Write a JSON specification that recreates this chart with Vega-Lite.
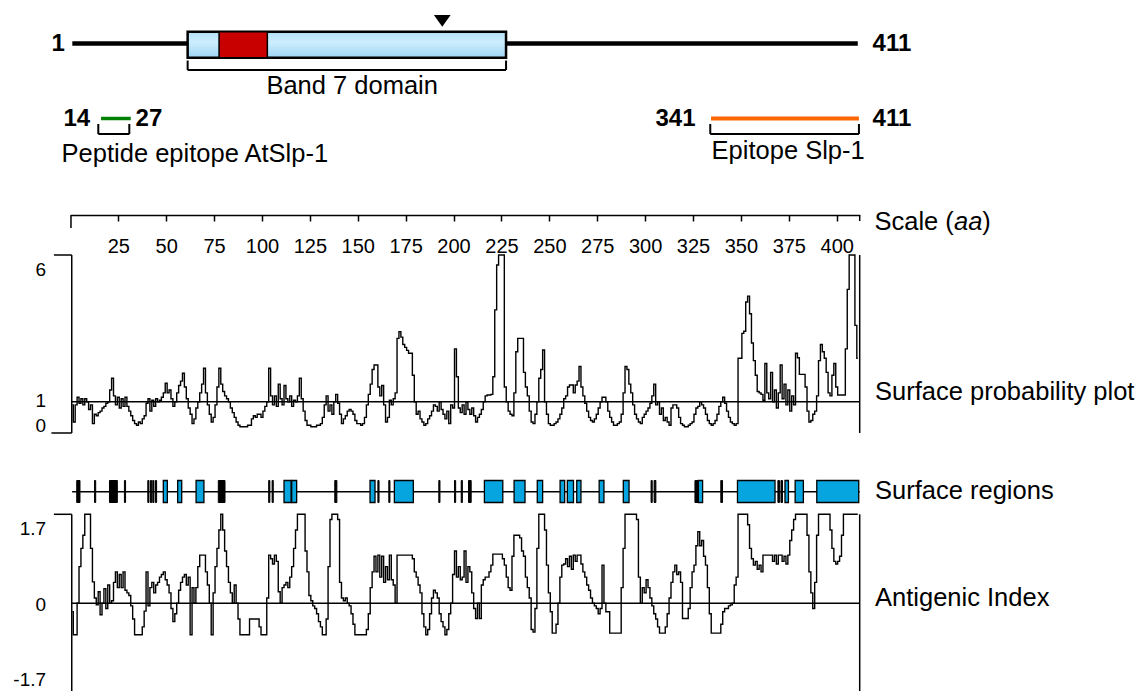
{
 "$schema": "https://vega.github.io/schema/vega-lite/v6.json",
 "width": 1138, "height": 691,
 "autosize": {"type": "none"},
 "padding": 0,
 "background": "#ffffff",
 "config": {"view": {"stroke": null}, "text": {"font": "Liberation Sans", "color": "black"}},
 "datasets": {
  "sp": [{"aa":1,"v":0.9},{"aa":2,"v":0.35},{"aa":3,"v":0.9},{"aa":4,"v":1.15},{"aa":5,"v":0.95},{"aa":6,"v":1.1},{"aa":7,"v":0.9},{"aa":8,"v":1.1},{"aa":9,"v":1.0},{"aa":10,"v":0.75},{"aa":11,"v":0.9},{"aa":12,"v":0.3},{"aa":13,"v":0.6},{"aa":14,"v":0.55},{"aa":15,"v":0.65},{"aa":16,"v":0.7},{"aa":17,"v":0.8},{"aa":18,"v":0.85},{"aa":19,"v":0.95},{"aa":20,"v":1.0},{"aa":21,"v":1.4},{"aa":22,"v":1.8},{"aa":23,"v":1.2},{"aa":24,"v":0.9},{"aa":25,"v":1.15},{"aa":26,"v":0.8},{"aa":27,"v":1.1},{"aa":28,"v":0.85},{"aa":29,"v":1.15},{"aa":30,"v":0.85},{"aa":31,"v":0.7},{"aa":32,"v":0.55},{"aa":33,"v":0.4},{"aa":34,"v":0.3},{"aa":35,"v":0.25},{"aa":36,"v":0.35},{"aa":37,"v":0.3},{"aa":38,"v":0.45},{"aa":39,"v":0.55},{"aa":40,"v":0.95},{"aa":41,"v":1.1},{"aa":42,"v":0.7},{"aa":43,"v":1.05},{"aa":44,"v":0.85},{"aa":45,"v":1.1},{"aa":46,"v":1.0},{"aa":47,"v":1.05},{"aa":48,"v":1.15},{"aa":49,"v":1.3},{"aa":50,"v":1.63},{"aa":51,"v":1.3},{"aa":52,"v":1.4},{"aa":53,"v":1.1},{"aa":54,"v":0.85},{"aa":55,"v":1.0},{"aa":56,"v":1.3},{"aa":57,"v":1.55},{"aa":58,"v":1.7},{"aa":59,"v":1.97},{"aa":60,"v":1.5},{"aa":61,"v":1.1},{"aa":62,"v":0.8},{"aa":63,"v":0.6},{"aa":64,"v":0.3},{"aa":65,"v":0.45},{"aa":66,"v":0.8},{"aa":67,"v":1.0},{"aa":68,"v":1.3},{"aa":69,"v":1.6},{"aa":70,"v":2.14},{"aa":71,"v":1.3},{"aa":72,"v":0.9},{"aa":73,"v":0.6},{"aa":74,"v":0.35},{"aa":75,"v":0.5},{"aa":76,"v":0.9},{"aa":77,"v":1.5},{"aa":78,"v":2.14},{"aa":79,"v":1.6},{"aa":80,"v":1.35},{"aa":81,"v":1.2},{"aa":82,"v":1.1},{"aa":83,"v":1.0},{"aa":84,"v":0.8},{"aa":85,"v":0.65},{"aa":86,"v":0.5},{"aa":87,"v":0.35},{"aa":88,"v":0.25},{"aa":89,"v":0.2},{"aa":90,"v":0.2},{"aa":91,"v":0.2},{"aa":92,"v":0.2},{"aa":93,"v":0.25},{"aa":94,"v":0.25},{"aa":95,"v":0.45},{"aa":96,"v":0.55},{"aa":97,"v":0.5},{"aa":98,"v":0.6},{"aa":99,"v":0.6},{"aa":100,"v":0.5},{"aa":101,"v":0.7},{"aa":102,"v":0.85},{"aa":103,"v":1.0},{"aa":104,"v":2.14},{"aa":105,"v":1.2},{"aa":106,"v":0.9},{"aa":107,"v":1.2},{"aa":108,"v":0.85},{"aa":109,"v":1.6},{"aa":110,"v":1.1},{"aa":111,"v":0.9},{"aa":112,"v":1.55},{"aa":113,"v":1.1},{"aa":114,"v":1.0},{"aa":115,"v":1.2},{"aa":116,"v":0.85},{"aa":117,"v":1.05},{"aa":118,"v":1.0},{"aa":119,"v":1.2},{"aa":120,"v":1.8},{"aa":121,"v":1.1},{"aa":122,"v":0.7},{"aa":123,"v":0.4},{"aa":124,"v":0.25},{"aa":125,"v":0.25},{"aa":126,"v":0.2},{"aa":127,"v":0.2},{"aa":128,"v":0.2},{"aa":129,"v":0.25},{"aa":130,"v":0.25},{"aa":131,"v":0.3},{"aa":132,"v":0.5},{"aa":133,"v":0.9},{"aa":134,"v":1.2},{"aa":135,"v":0.7},{"aa":136,"v":0.9},{"aa":137,"v":0.6},{"aa":138,"v":1.0},{"aa":139,"v":1.25},{"aa":140,"v":0.95},{"aa":141,"v":0.6},{"aa":142,"v":0.3},{"aa":143,"v":0.45},{"aa":144,"v":0.55},{"aa":145,"v":0.7},{"aa":146,"v":0.75},{"aa":147,"v":0.7},{"aa":148,"v":0.6},{"aa":149,"v":0.4},{"aa":150,"v":0.3},{"aa":151,"v":0.3},{"aa":152,"v":0.25},{"aa":153,"v":0.3},{"aa":154,"v":0.5},{"aa":155,"v":0.9},{"aa":156,"v":1.25},{"aa":157,"v":1.6},{"aa":158,"v":2.1},{"aa":159,"v":2.25},{"aa":160,"v":2.25},{"aa":161,"v":1.5},{"aa":162,"v":1.2},{"aa":163,"v":1.55},{"aa":164,"v":0.9},{"aa":165,"v":0.35},{"aa":166,"v":0.5},{"aa":167,"v":1.05},{"aa":168,"v":0.9},{"aa":169,"v":1.1},{"aa":170,"v":1.3},{"aa":171,"v":3.16},{"aa":172,"v":3.39},{"aa":173,"v":3.2},{"aa":174,"v":2.95},{"aa":175,"v":2.85},{"aa":176,"v":2.75},{"aa":177,"v":2.65},{"aa":178,"v":2.65},{"aa":179,"v":1.9},{"aa":180,"v":1.0},{"aa":181,"v":0.6},{"aa":182,"v":0.7},{"aa":183,"v":0.45},{"aa":184,"v":0.35},{"aa":185,"v":0.25},{"aa":186,"v":0.3},{"aa":187,"v":0.45},{"aa":188,"v":0.55},{"aa":189,"v":0.7},{"aa":190,"v":0.9},{"aa":191,"v":0.85},{"aa":192,"v":0.7},{"aa":193,"v":1.0},{"aa":194,"v":0.75},{"aa":195,"v":0.6},{"aa":196,"v":0.45},{"aa":197,"v":0.7},{"aa":198,"v":0.3},{"aa":199,"v":0.9},{"aa":200,"v":0.8},{"aa":201,"v":2.8},{"aa":202,"v":1.85},{"aa":203,"v":0.8},{"aa":204,"v":0.65},{"aa":205,"v":0.9},{"aa":206,"v":0.6},{"aa":207,"v":1.0},{"aa":208,"v":0.75},{"aa":209,"v":0.6},{"aa":210,"v":0.8},{"aa":211,"v":0.55},{"aa":212,"v":0.35},{"aa":213,"v":0.5},{"aa":214,"v":0.6},{"aa":215,"v":0.75},{"aa":216,"v":1.0},{"aa":217,"v":1.2},{"aa":218,"v":1.23},{"aa":219,"v":1.23},{"aa":220,"v":1.25},{"aa":221,"v":1.85},{"aa":222,"v":4.13},{"aa":223,"v":5.66},{"aa":224,"v":6.0},{"aa":225,"v":6.0},{"aa":226,"v":6.0},{"aa":227,"v":1.5},{"aa":228,"v":1.0},{"aa":229,"v":0.7},{"aa":230,"v":0.6},{"aa":231,"v":0.55},{"aa":232,"v":1.3},{"aa":233,"v":2.7},{"aa":234,"v":3.16},{"aa":235,"v":3.16},{"aa":236,"v":3.16},{"aa":237,"v":2.0},{"aa":238,"v":1.5},{"aa":239,"v":1.2},{"aa":240,"v":0.7},{"aa":241,"v":0.35},{"aa":242,"v":0.3},{"aa":243,"v":0.6},{"aa":244,"v":1.0},{"aa":245,"v":1.8},{"aa":246,"v":2.1},{"aa":247,"v":2.76},{"aa":248,"v":1.0},{"aa":249,"v":0.6},{"aa":250,"v":0.3},{"aa":251,"v":0.25},{"aa":252,"v":0.25},{"aa":253,"v":0.3},{"aa":254,"v":0.35},{"aa":255,"v":0.45},{"aa":256,"v":0.6},{"aa":257,"v":0.8},{"aa":258,"v":1.1},{"aa":259,"v":1.2},{"aa":260,"v":1.5},{"aa":261,"v":1.57},{"aa":262,"v":1.57},{"aa":263,"v":1.3},{"aa":264,"v":1.57},{"aa":265,"v":1.7},{"aa":266,"v":2.2},{"aa":267,"v":1.5},{"aa":268,"v":1.2},{"aa":269,"v":0.95},{"aa":270,"v":0.7},{"aa":271,"v":0.5},{"aa":272,"v":0.4},{"aa":273,"v":0.35},{"aa":274,"v":0.45},{"aa":275,"v":0.6},{"aa":276,"v":0.8},{"aa":277,"v":1.0},{"aa":278,"v":1.15},{"aa":279,"v":1.15},{"aa":280,"v":1.0},{"aa":281,"v":0.7},{"aa":282,"v":0.5},{"aa":283,"v":0.35},{"aa":284,"v":0.25},{"aa":285,"v":0.25},{"aa":286,"v":0.3},{"aa":287,"v":0.35},{"aa":288,"v":0.6},{"aa":289,"v":1.3},{"aa":290,"v":2.2},{"aa":291,"v":2.1},{"aa":292,"v":1.6},{"aa":293,"v":1.3},{"aa":294,"v":0.9},{"aa":295,"v":0.6},{"aa":296,"v":0.45},{"aa":297,"v":0.35},{"aa":298,"v":0.3},{"aa":299,"v":0.5},{"aa":300,"v":0.6},{"aa":301,"v":0.7},{"aa":302,"v":0.8},{"aa":303,"v":0.95},{"aa":304,"v":1.2},{"aa":305,"v":1.6},{"aa":306,"v":0.9},{"aa":307,"v":1.0},{"aa":308,"v":0.6},{"aa":309,"v":0.8},{"aa":310,"v":0.4},{"aa":311,"v":0.5},{"aa":312,"v":0.35},{"aa":313,"v":0.25},{"aa":314,"v":0.8},{"aa":315,"v":0.9},{"aa":316,"v":0.9},{"aa":317,"v":0.8},{"aa":318,"v":0.5},{"aa":319,"v":0.3},{"aa":320,"v":0.25},{"aa":321,"v":0.2},{"aa":322,"v":0.2},{"aa":323,"v":0.25},{"aa":324,"v":0.3},{"aa":325,"v":0.35},{"aa":326,"v":0.6},{"aa":327,"v":0.8},{"aa":328,"v":0.85},{"aa":329,"v":1.0},{"aa":330,"v":0.9},{"aa":331,"v":0.8},{"aa":332,"v":0.6},{"aa":333,"v":0.4},{"aa":334,"v":0.3},{"aa":335,"v":0.25},{"aa":336,"v":0.3},{"aa":337,"v":0.4},{"aa":338,"v":0.6},{"aa":339,"v":0.85},{"aa":340,"v":1.0},{"aa":341,"v":1.15},{"aa":342,"v":0.95},{"aa":343,"v":0.7},{"aa":344,"v":0.5},{"aa":345,"v":0.35},{"aa":346,"v":0.3},{"aa":347,"v":0.25},{"aa":348,"v":0.3},{"aa":349,"v":2.48},{"aa":350,"v":2.48},{"aa":351,"v":3.33},{"aa":352,"v":3.4},{"aa":353,"v":4.4},{"aa":354,"v":4.6},{"aa":355,"v":4.0},{"aa":356,"v":3.0},{"aa":357,"v":2.4},{"aa":358,"v":1.9},{"aa":359,"v":1.35},{"aa":360,"v":1.3},{"aa":361,"v":1.25},{"aa":362,"v":1.05},{"aa":363,"v":2.3},{"aa":364,"v":1.3},{"aa":365,"v":1.1},{"aa":366,"v":2.0},{"aa":367,"v":1.0},{"aa":368,"v":1.4},{"aa":369,"v":0.8},{"aa":370,"v":1.3},{"aa":371,"v":2.25},{"aa":372,"v":1.1},{"aa":373,"v":1.6},{"aa":374,"v":0.9},{"aa":375,"v":1.4},{"aa":376,"v":0.7},{"aa":377,"v":1.2},{"aa":378,"v":0.9},{"aa":379,"v":2.65},{"aa":380,"v":2.5},{"aa":381,"v":1.93},{"aa":382,"v":1.93},{"aa":383,"v":1.93},{"aa":384,"v":1.5},{"aa":385,"v":0.7},{"aa":386,"v":0.35},{"aa":387,"v":0.4},{"aa":388,"v":0.6},{"aa":389,"v":0.7},{"aa":390,"v":1.2},{"aa":391,"v":2.4},{"aa":392,"v":2.95},{"aa":393,"v":2.7},{"aa":394,"v":2.48},{"aa":395,"v":2.0},{"aa":396,"v":1.3},{"aa":397,"v":1.2},{"aa":398,"v":1.9},{"aa":399,"v":2.3},{"aa":400,"v":1.5},{"aa":401,"v":1.23},{"aa":402,"v":1.23},{"aa":403,"v":1.23},{"aa":404,"v":1.23},{"aa":405,"v":2.8},{"aa":406,"v":4.83},{"aa":407,"v":6.0},{"aa":408,"v":6.0},{"aa":409,"v":6.0},{"aa":410,"v":3.6},{"aa":411,"v":2.48}],
  "ai": [{"aa":1,"v":-0.16},{"aa":2,"v":-0.6},{"aa":3,"v":-0.6},{"aa":4,"v":0.0},{"aa":5,"v":0.7},{"aa":6,"v":1.05},{"aa":7,"v":1.3},{"aa":8,"v":1.7},{"aa":9,"v":1.7},{"aa":10,"v":1.7},{"aa":11,"v":1.05},{"aa":12,"v":0.41},{"aa":13,"v":0.1},{"aa":14,"v":-0.03},{"aa":15,"v":0.22},{"aa":16,"v":-0.22},{"aa":17,"v":0.0},{"aa":18,"v":0.28},{"aa":19,"v":-0.1},{"aa":20,"v":0.35},{"aa":21,"v":0.0},{"aa":22,"v":0.05},{"aa":23,"v":0.4},{"aa":24,"v":0.6},{"aa":25,"v":0.3},{"aa":26,"v":0.55},{"aa":27,"v":0.3},{"aa":28,"v":0.6},{"aa":29,"v":0.25},{"aa":30,"v":0.2},{"aa":31,"v":0.15},{"aa":32,"v":-0.05},{"aa":33,"v":-0.3},{"aa":34,"v":-0.6},{"aa":35,"v":-0.6},{"aa":36,"v":-0.6},{"aa":37,"v":-0.6},{"aa":38,"v":-0.45},{"aa":39,"v":-0.15},{"aa":40,"v":0.6},{"aa":41,"v":-0.05},{"aa":42,"v":0.3},{"aa":43,"v":0.4},{"aa":44,"v":0.2},{"aa":45,"v":0.35},{"aa":46,"v":0.4},{"aa":47,"v":0.5},{"aa":48,"v":0.55},{"aa":49,"v":0.6},{"aa":50,"v":0.45},{"aa":51,"v":0.35},{"aa":52,"v":0.2},{"aa":53,"v":-0.1},{"aa":54,"v":-0.35},{"aa":55,"v":-0.2},{"aa":56,"v":0.0},{"aa":57,"v":0.25},{"aa":58,"v":0.4},{"aa":59,"v":0.5},{"aa":60,"v":0.55},{"aa":61,"v":0.35},{"aa":62,"v":0.5},{"aa":63,"v":-0.6},{"aa":64,"v":0.3},{"aa":65,"v":0.0},{"aa":66,"v":0.3},{"aa":67,"v":0.7},{"aa":68,"v":0.92},{"aa":69,"v":0.92},{"aa":70,"v":0.92},{"aa":71,"v":0.6},{"aa":72,"v":0.35},{"aa":73,"v":0.0},{"aa":74,"v":-0.6},{"aa":75,"v":0.2},{"aa":76,"v":0.7},{"aa":77,"v":1.05},{"aa":78,"v":1.4},{"aa":79,"v":1.7},{"aa":80,"v":1.4},{"aa":81,"v":1.0},{"aa":82,"v":0.7},{"aa":83,"v":0.4},{"aa":84,"v":0.2},{"aa":85,"v":0.0},{"aa":86,"v":0.35},{"aa":87,"v":0.0},{"aa":88,"v":-0.3},{"aa":89,"v":-0.6},{"aa":90,"v":-0.6},{"aa":91,"v":-0.6},{"aa":92,"v":-0.6},{"aa":93,"v":-0.6},{"aa":94,"v":-0.3},{"aa":95,"v":-0.3},{"aa":96,"v":-0.3},{"aa":97,"v":-0.3},{"aa":98,"v":-0.3},{"aa":99,"v":-0.45},{"aa":100,"v":-0.6},{"aa":101,"v":-0.6},{"aa":102,"v":-0.6},{"aa":103,"v":0.1},{"aa":104,"v":0.92},{"aa":105,"v":0.85},{"aa":106,"v":0.75},{"aa":107,"v":0.92},{"aa":108,"v":0.8},{"aa":109,"v":0.22},{"aa":110,"v":0.0},{"aa":111,"v":0.3},{"aa":112,"v":0.35},{"aa":113,"v":0.4},{"aa":114,"v":0.3},{"aa":115,"v":0.5},{"aa":116,"v":0.7},{"aa":117,"v":1.05},{"aa":118,"v":1.4},{"aa":119,"v":1.7},{"aa":120,"v":1.7},{"aa":121,"v":1.7},{"aa":122,"v":1.7},{"aa":123,"v":1.0},{"aa":124,"v":0.6},{"aa":125,"v":0.15},{"aa":126,"v":0.05},{"aa":127,"v":-0.05},{"aa":128,"v":-0.1},{"aa":129,"v":-0.2},{"aa":130,"v":-0.35},{"aa":131,"v":-0.45},{"aa":132,"v":-0.6},{"aa":133,"v":-0.6},{"aa":134,"v":-0.3},{"aa":135,"v":0.7},{"aa":136,"v":1.6},{"aa":137,"v":1.7},{"aa":138,"v":1.7},{"aa":139,"v":1.7},{"aa":140,"v":1.6},{"aa":141,"v":0.4},{"aa":142,"v":0.1},{"aa":143,"v":0.05},{"aa":144,"v":0.1},{"aa":145,"v":0.0},{"aa":146,"v":-0.05},{"aa":147,"v":-0.2},{"aa":148,"v":-0.4},{"aa":149,"v":-0.6},{"aa":150,"v":-0.6},{"aa":151,"v":-0.6},{"aa":152,"v":-0.6},{"aa":153,"v":-0.6},{"aa":154,"v":-0.6},{"aa":155,"v":-0.5},{"aa":156,"v":-0.2},{"aa":157,"v":0.3},{"aa":158,"v":0.6},{"aa":159,"v":0.9},{"aa":160,"v":0.6},{"aa":161,"v":0.92},{"aa":162,"v":0.5},{"aa":163,"v":0.9},{"aa":164,"v":0.4},{"aa":165,"v":0.7},{"aa":166,"v":0.45},{"aa":167,"v":0.92},{"aa":168,"v":0.45},{"aa":169,"v":0.35},{"aa":170,"v":0.0},{"aa":171,"v":0.92},{"aa":172,"v":0.92},{"aa":173,"v":0.92},{"aa":174,"v":0.92},{"aa":175,"v":0.92},{"aa":176,"v":0.92},{"aa":177,"v":0.92},{"aa":178,"v":0.92},{"aa":179,"v":0.85},{"aa":180,"v":0.6},{"aa":181,"v":0.5},{"aa":182,"v":0.35},{"aa":183,"v":0.2},{"aa":184,"v":-0.2},{"aa":185,"v":-0.45},{"aa":186,"v":-0.6},{"aa":187,"v":-0.5},{"aa":188,"v":-0.2},{"aa":189,"v":0.1},{"aa":190,"v":0.25},{"aa":191,"v":0.2},{"aa":192,"v":0.1},{"aa":193,"v":-0.2},{"aa":194,"v":-0.35},{"aa":195,"v":-0.45},{"aa":196,"v":-0.6},{"aa":197,"v":-0.5},{"aa":198,"v":-0.2},{"aa":199,"v":0.0},{"aa":200,"v":0.55},{"aa":201,"v":1.0},{"aa":202,"v":0.5},{"aa":203,"v":0.7},{"aa":204,"v":0.45},{"aa":205,"v":0.5},{"aa":206,"v":1.0},{"aa":207,"v":0.4},{"aa":208,"v":0.7},{"aa":209,"v":0.6},{"aa":210,"v":0.2},{"aa":211,"v":-0.1},{"aa":212,"v":-0.29},{"aa":213,"v":0.0},{"aa":214,"v":-0.29},{"aa":215,"v":0.35},{"aa":216,"v":0.45},{"aa":217,"v":0.5},{"aa":218,"v":0.5},{"aa":219,"v":0.6},{"aa":220,"v":0.73},{"aa":221,"v":0.94},{"aa":222,"v":0.94},{"aa":223,"v":0.94},{"aa":224,"v":0.94},{"aa":225,"v":0.94},{"aa":226,"v":0.85},{"aa":227,"v":0.73},{"aa":228,"v":0.5},{"aa":229,"v":0.3},{"aa":230,"v":0.25},{"aa":231,"v":0.9},{"aa":232,"v":1.3},{"aa":233,"v":1.3},{"aa":234,"v":1.3},{"aa":235,"v":1.25},{"aa":236,"v":1.0},{"aa":237,"v":0.9},{"aa":238,"v":0.5},{"aa":239,"v":0.3},{"aa":240,"v":0.1},{"aa":241,"v":-0.5},{"aa":242,"v":-0.55},{"aa":243,"v":-0.1},{"aa":244,"v":1.05},{"aa":245,"v":1.7},{"aa":246,"v":1.7},{"aa":247,"v":1.7},{"aa":248,"v":1.4},{"aa":249,"v":0.73},{"aa":250,"v":0.2},{"aa":251,"v":-0.16},{"aa":252,"v":-0.57},{"aa":253,"v":-0.57},{"aa":254,"v":-0.4},{"aa":255,"v":0.0},{"aa":256,"v":0.5},{"aa":257,"v":0.73},{"aa":258,"v":0.75},{"aa":259,"v":0.85},{"aa":260,"v":0.7},{"aa":261,"v":0.9},{"aa":262,"v":0.65},{"aa":263,"v":0.92},{"aa":264,"v":0.8},{"aa":265,"v":0.92},{"aa":266,"v":0.92},{"aa":267,"v":0.75},{"aa":268,"v":0.6},{"aa":269,"v":0.5},{"aa":270,"v":0.35},{"aa":271,"v":0.25},{"aa":272,"v":0.1},{"aa":273,"v":0.0},{"aa":274,"v":-0.05},{"aa":275,"v":-0.1},{"aa":276,"v":-0.2},{"aa":277,"v":-0.1},{"aa":278,"v":0.73},{"aa":279,"v":0.0},{"aa":280,"v":-0.16},{"aa":281,"v":-0.16},{"aa":282,"v":-0.57},{"aa":283,"v":-0.57},{"aa":284,"v":-0.57},{"aa":285,"v":-0.57},{"aa":286,"v":-0.57},{"aa":287,"v":-0.57},{"aa":288,"v":0.3},{"aa":289,"v":1.05},{"aa":290,"v":1.7},{"aa":291,"v":1.7},{"aa":292,"v":1.7},{"aa":293,"v":1.7},{"aa":294,"v":1.7},{"aa":295,"v":1.7},{"aa":296,"v":1.6},{"aa":297,"v":0.5},{"aa":298,"v":0.0},{"aa":299,"v":0.3},{"aa":300,"v":0.2},{"aa":301,"v":0.45},{"aa":302,"v":0.3},{"aa":303,"v":0.1},{"aa":304,"v":-0.05},{"aa":305,"v":-0.2},{"aa":306,"v":-0.3},{"aa":307,"v":-0.45},{"aa":308,"v":-0.57},{"aa":309,"v":-0.57},{"aa":310,"v":-0.57},{"aa":311,"v":-0.45},{"aa":312,"v":-0.2},{"aa":313,"v":0.1},{"aa":314,"v":0.4},{"aa":315,"v":0.6},{"aa":316,"v":0.73},{"aa":317,"v":0.55},{"aa":318,"v":0.6},{"aa":319,"v":0.4},{"aa":320,"v":-0.29},{"aa":321,"v":-0.29},{"aa":322,"v":-0.29},{"aa":323,"v":-0.1},{"aa":324,"v":0.3},{"aa":325,"v":0.6},{"aa":326,"v":0.73},{"aa":327,"v":1.1},{"aa":328,"v":1.37},{"aa":329,"v":1.1},{"aa":330,"v":1.2},{"aa":331,"v":0.9},{"aa":332,"v":0.73},{"aa":333,"v":0.3},{"aa":334,"v":-0.2},{"aa":335,"v":-0.57},{"aa":336,"v":-0.57},{"aa":337,"v":-0.57},{"aa":338,"v":-0.57},{"aa":339,"v":-0.57},{"aa":340,"v":-0.4},{"aa":341,"v":-0.16},{"aa":342,"v":-0.1},{"aa":343,"v":-0.1},{"aa":344,"v":-0.05},{"aa":345,"v":-0.03},{"aa":346,"v":0.0},{"aa":347,"v":0.35},{"aa":348,"v":0.5},{"aa":349,"v":1.7},{"aa":350,"v":1.7},{"aa":351,"v":1.7},{"aa":352,"v":1.7},{"aa":353,"v":1.7},{"aa":354,"v":1.5},{"aa":355,"v":1.05},{"aa":356,"v":0.85},{"aa":357,"v":0.73},{"aa":358,"v":0.8},{"aa":359,"v":0.65},{"aa":360,"v":0.73},{"aa":361,"v":0.6},{"aa":362,"v":0.92},{"aa":363,"v":0.92},{"aa":364,"v":0.92},{"aa":365,"v":0.92},{"aa":366,"v":0.92},{"aa":367,"v":0.8},{"aa":368,"v":0.92},{"aa":369,"v":0.75},{"aa":370,"v":0.92},{"aa":371,"v":0.92},{"aa":372,"v":0.8},{"aa":373,"v":0.9},{"aa":374,"v":0.75},{"aa":375,"v":0.92},{"aa":376,"v":1.2},{"aa":377,"v":1.4},{"aa":378,"v":1.6},{"aa":379,"v":1.7},{"aa":380,"v":1.7},{"aa":381,"v":1.7},{"aa":382,"v":1.7},{"aa":383,"v":1.7},{"aa":384,"v":1.7},{"aa":385,"v":1.3},{"aa":386,"v":0.6},{"aa":387,"v":0.2},{"aa":388,"v":-0.1},{"aa":389,"v":0.4},{"aa":390,"v":1.3},{"aa":391,"v":1.7},{"aa":392,"v":1.7},{"aa":393,"v":1.7},{"aa":394,"v":1.7},{"aa":395,"v":1.7},{"aa":396,"v":1.7},{"aa":397,"v":1.4},{"aa":398,"v":1.05},{"aa":399,"v":0.8},{"aa":400,"v":0.75},{"aa":401,"v":0.8},{"aa":402,"v":0.9},{"aa":403,"v":1.3},{"aa":404,"v":1.7},{"aa":405,"v":1.7},{"aa":406,"v":1.7},{"aa":407,"v":1.7},{"aa":408,"v":1.7},{"aa":409,"v":1.7},{"aa":410,"v":1.7},{"aa":411,"v":1.7}],
  "regions": [
   {"aa":48.5,"aa2":50.6,"kind":"surface","y":480.5,"y2":502.5},{"aa":56,"aa2":58.1,"kind":"surface","y":480.5,"y2":502.5},{"aa":65.6,"aa2":69.7,"kind":"surface","y":480.5,"y2":502.5},{"aa":111.5,"aa2":115.2,"kind":"surface","y":480.5,"y2":502.5},{"aa":115.5,"aa2":118.1,"kind":"surface","y":480.5,"y2":502.5},{"aa":156.4,"aa2":159,"kind":"surface","y":480.5,"y2":502.5},{"aa":169.1,"aa2":179,"kind":"surface","y":480.5,"y2":502.5},{"aa":216.1,"aa2":225.7,"kind":"surface","y":480.5,"y2":502.5},{"aa":231.6,"aa2":237.3,"kind":"surface","y":480.5,"y2":502.5},{"aa":243.7,"aa2":246.5,"kind":"surface","y":480.5,"y2":502.5},{"aa":255.6,"aa2":258,"kind":"surface","y":480.5,"y2":502.5},{"aa":259.4,"aa2":262.6,"kind":"surface","y":480.5,"y2":502.5},{"aa":264.3,"aa2":266.5,"kind":"surface","y":480.5,"y2":502.5},{"aa":276,"aa2":278.5,"kind":"surface","y":480.5,"y2":502.5},{"aa":288.6,"aa2":291.6,"kind":"surface","y":480.5,"y2":502.5},{"aa":327.8,"aa2":330,"kind":"surface","y":480.5,"y2":502.5},{"aa":348.2,"aa2":367.8,"kind":"surface","y":480.5,"y2":502.5},{"aa":373,"aa2":374.8,"kind":"surface","y":480.5,"y2":502.5},{"aa":378.3,"aa2":382.6,"kind":"surface","y":480.5,"y2":502.5},{"aa":389.6,"aa2":411.5,"kind":"surface","y":480.5,"y2":502.5},
   {"aa":3.3,"aa2":5,"kind":"short","y":480.5,"y2":502.5},{"aa":12.6,"aa2":13.2,"kind":"short","y":480.5,"y2":502.5},{"aa":20.4,"aa2":24.5,"kind":"short","y":480.5,"y2":502.5},{"aa":28.2,"aa2":28.8,"kind":"short","y":480.5,"y2":502.5},{"aa":40.4,"aa2":41,"kind":"short","y":480.5,"y2":502.5},{"aa":41.8,"aa2":42.4,"kind":"short","y":480.5,"y2":502.5},{"aa":43,"aa2":43.6,"kind":"short","y":480.5,"y2":502.5},{"aa":44.4,"aa2":45,"kind":"short","y":480.5,"y2":502.5},{"aa":77.2,"aa2":80.7,"kind":"short","y":480.5,"y2":502.5},{"aa":103.5,"aa2":104.1,"kind":"short","y":480.5,"y2":502.5},{"aa":105.3,"aa2":105.9,"kind":"short","y":480.5,"y2":502.5},{"aa":138,"aa2":139.1,"kind":"short","y":480.5,"y2":502.5},{"aa":160.5,"aa2":161.1,"kind":"short","y":480.5,"y2":502.5},{"aa":166.2,"aa2":166.8,"kind":"short","y":480.5,"y2":502.5},{"aa":192.3,"aa2":192.9,"kind":"short","y":480.5,"y2":502.5},{"aa":200.5,"aa2":201.1,"kind":"short","y":480.5,"y2":502.5},{"aa":204,"aa2":204.6,"kind":"short","y":480.5,"y2":502.5},{"aa":207.8,"aa2":209.2,"kind":"short","y":480.5,"y2":502.5},{"aa":303.1,"aa2":303.7,"kind":"short","y":480.5,"y2":502.5},{"aa":304.7,"aa2":305.6,"kind":"short","y":480.5,"y2":502.5},{"aa":326,"aa2":327.8,"kind":"short","y":480.5,"y2":502.5},{"aa":339.5,"aa2":340.4,"kind":"short","y":480.5,"y2":502.5},{"aa":369.3,"aa2":370.1,"kind":"short","y":480.5,"y2":502.5},{"aa":370.9,"aa2":371.7,"kind":"short","y":480.5,"y2":502.5}
  ]
 },
 "encoding": {
  "x": {"field": "aa", "type": "quantitative",
   "scale": {"domain": [0, 412], "range": [70.4, 859.7], "nice": false, "zero": false},
   "axis": {"orient": "bottom", "offset": -476, "values": [25,50,75,100,125,150,175,200,225,250,275,300,325,350,375,400], "title": null, "grid": false,
    "domainColor": "#000000", "domainWidth": 1.5, "tickColor": "#000000", "tickWidth": 1.5, "tickSize": 6,
    "labelFont": "Liberation Sans", "labelFontSize": 20, "labelColor": "#000000", "labelPadding": 15, "labelOverlap": false, "labelFlush": false, "labelBound": false}}
 },
 "layer": [
  {
   "encoding": {"y": {"field": "y", "type": "quantitative", "scale": {"domain": [0, 691], "range": [0, 691], "nice": false, "zero": false}, "axis": null}},
   "layer": [
    {"data": {"values": [{"aa": 61.2, "aa2": 227.4, "y": 31.7, "y2": 57.7}]},
     "mark": {"type": "rect", "stroke": "#000000", "strokeWidth": 2.5, "fill": {"gradient": "linear", "x1": 0, "y1": 0, "x2": 0, "y2": 1, "stops": [{"offset": 0, "color": "#b3dff8"}, {"offset": 0.4, "color": "#cdeefd"}, {"offset": 1, "color": "#9fd4f4"}]}},
     "encoding": {"x2": {"field": "aa2"}, "y2": {"field": "y2"}}},
    {"data": {"values": [{"aa": 77.6, "aa2": 102.8, "y": 31.7, "y2": 57.7}]},
     "mark": {"type": "rect", "fill": "#c80000", "stroke": "#000000", "strokeWidth": 1.5},
     "encoding": {"x2": {"field": "aa2"}, "y2": {"field": "y2"}}},
    {"data": {"values": [{"aa": 1, "aa2": 61.2, "y": 43.5, "y2": 43.5}, {"aa": 227.4, "aa2": 411, "y": 43.5, "y2": 43.5}]},
     "mark": {"type": "rule", "color": "#000000", "strokeWidth": 4.5},
     "encoding": {"x2": {"field": "aa2"}, "y2": {"field": "y2"}}},
    {"data": {"values": [{"aa": 194.1, "y": 20.8}]},
     "mark": {"type": "point", "shape": "M-1,-0.7L1,-0.7L0,0.7Z", "filled": true, "size": 280, "color": "#000000", "opacity": 1}},
    {"data": {"values": [
      {"aa": 61.2, "aa2": 227.4, "y": 70, "y2": 70}, {"aa": 61.2, "aa2": 61.2, "y": 60.5, "y2": 70}, {"aa": 227.4, "aa2": 227.4, "y": 60.5, "y2": 70},
      {"aa": 14.56, "aa2": 30.75, "y": 134, "y2": 134}, {"aa": 14.56, "aa2": 14.56, "y": 124, "y2": 134}, {"aa": 30.75, "aa2": 30.75, "y": 124, "y2": 134},
      {"aa": 334.0, "aa2": 411.6, "y": 134, "y2": 134}, {"aa": 334.0, "aa2": 334.0, "y": 124, "y2": 134}, {"aa": 411.6, "aa2": 411.6, "y": 124, "y2": 134}
     ]},
     "mark": {"type": "rule", "color": "#000000", "strokeWidth": 2},
     "encoding": {"x2": {"field": "aa2"}, "y2": {"field": "y2"}}},
    {"data": {"values": [{"aa": 16.0, "aa2": 31.5, "y": 118.5, "y2": 118.5}]},
     "mark": {"type": "rule", "color": "#008000", "strokeWidth": 3.5},
     "encoding": {"x2": {"field": "aa2"}, "y2": {"field": "y2"}}},
    {"data": {"values": [{"aa": 334.4, "aa2": 411.6, "y": 118.5, "y2": 118.5}]},
     "mark": {"type": "rule", "color": "#ff6600", "strokeWidth": 4},
     "encoding": {"x2": {"field": "aa2"}, "y2": {"field": "y2"}}},
    {"data": {"values": [
      {"aa": 0.3, "aa2": 0.3, "y": 215, "y2": 228}, {"aa": 412, "aa2": 412, "y": 215, "y2": 221},
      {"aa": 0.7, "aa2": 0.7, "y": 255, "y2": 433}, {"aa": -8.6, "aa2": 0.7, "y": 255, "y2": 255}, {"aa": -9.9, "aa2": 0.7, "y": 433, "y2": 433}, {"aa": 412, "aa2": 412, "y": 255, "y2": 433},
      {"aa": 0.9, "aa2": 412, "y": 491.7, "y2": 491.7},
      {"aa": 0.7, "aa2": 0.7, "y": 514.3, "y2": 691}, {"aa": -8.6, "aa2": 0.7, "y": 514.3, "y2": 514.3}, {"aa": 412, "aa2": 412, "y": 514.3, "y2": 691}
     ]},
     "mark": {"type": "rule", "color": "#000000", "strokeWidth": 1.5},
     "encoding": {"x2": {"field": "aa2"}, "y2": {"field": "y2"}}},
    {"data": {"name": "regions"},
     "transform": [{"filter": "datum.kind == 'surface'"}],
     "mark": {"type": "rect", "fill": "#07a5e0", "stroke": "#000000", "strokeWidth": 1.3},
     "encoding": {"x2": {"field": "aa2"}, "y2": {"field": "y2"}}},
    {"data": {"name": "regions"},
     "transform": [{"filter": "datum.kind == 'short'"}],
     "mark": {"type": "rect", "fill": "#000000", "stroke": "#000000", "strokeWidth": 1},
     "encoding": {"x2": {"field": "aa2"}, "y2": {"field": "y2"}}},
    {"data": {"values": [
      {"aa": -9.9, "y": 43.5, "label": "1"}, {"aa": 418.7, "y": 43.5, "label": "411"},
      {"aa": -3.6, "y": 118.5, "label": "14"}, {"aa": 34.0, "y": 118.5, "label": "27"},
      {"aa": 305.4, "y": 118.5, "label": "341"}, {"aa": 418.7, "y": 118.5, "label": "411"}
     ]},
     "mark": {"type": "text", "align": "left", "baseline": "middle", "fontSize": 24, "fontWeight": "bold", "font": "Liberation Sans", "color": "#000000"},
     "encoding": {"text": {"field": "label"}}},
    {"data": {"values": [
      {"aa": 102.3, "y": 86, "label": "Band 7 domain"},
      {"aa": -4.6, "y": 154, "label": "Peptide epitope AtSlp-1"},
      {"aa": 334.7, "y": 151, "label": "Epitope Slp-1"}
     ]},
     "mark": {"type": "text", "align": "left", "baseline": "middle", "fontSize": 25.5, "font": "Liberation Sans", "color": "#000000"},
     "encoding": {"text": {"field": "label"}}},
    {"data": {"values": [
      {"aa": 419.7, "y": 222, "label": "Scale ("}, {"aa": 476.0, "y": 222, "label": ")"},
      {"aa": 420, "y": 392, "label": "Surface probability plot"},
      {"aa": 420, "y": 491, "label": "Surface regions"},
      {"aa": 420, "y": 598, "label": "Antigenic Index"}
     ]},
     "mark": {"type": "text", "align": "left", "baseline": "middle", "fontSize": 25.5, "font": "Liberation Sans", "color": "#000000"},
     "encoding": {"text": {"field": "label"}}},
    {"data": {"values": [{"aa": 461.2, "y": 222, "label": "aa"}]},
     "mark": {"type": "text", "align": "left", "baseline": "middle", "fontSize": 25.5, "fontStyle": "italic", "font": "Liberation Sans", "color": "#000000"},
     "encoding": {"text": {"field": "label"}}},
    {"data": {"values": [
      {"aa": -12.7, "y": 270, "label": "6"}, {"aa": -12.7, "y": 400.5, "label": "1"}, {"aa": -12.7, "y": 426, "label": "0"},
      {"aa": -12.7, "y": 529, "label": "1.7"}, {"aa": -12.7, "y": 605, "label": "0"}, {"aa": -12.7, "y": 680, "label": "-1.7"}
     ]},
     "mark": {"type": "text", "align": "right", "baseline": "middle", "fontSize": 19, "font": "Liberation Sans", "color": "#000000"},
     "encoding": {"text": {"field": "label"}}}
   ]
  },
  {
   "encoding": {"y": {"field": "v", "type": "quantitative", "scale": {"domain": [0, 1, 6], "range": [433, 401.7, 255], "nice": false, "zero": false}, "axis": null}},
   "layer": [
    {"data": {"values": [{"aa": 0.7, "aa2": 412, "v": 1}]},
     "mark": {"type": "rule", "color": "#000000", "strokeWidth": 1.5},
     "encoding": {"x2": {"field": "aa2"}}},
    {"data": {"name": "sp"},
     "mark": {"type": "line", "interpolate": "step", "color": "#000000", "strokeWidth": 1.4}}
   ]
  },
  {
   "encoding": {"y": {"field": "v", "type": "quantitative", "scale": {"domain": [-1.7, 1.7], "range": [692.3, 514.3], "nice": false, "zero": false}, "axis": null}},
   "layer": [
    {"data": {"values": [{"aa": 0.7, "aa2": 412, "v": 0}]},
     "mark": {"type": "rule", "color": "#000000", "strokeWidth": 1.5},
     "encoding": {"x2": {"field": "aa2"}}},
    {"data": {"name": "ai"},
     "mark": {"type": "line", "interpolate": "step", "color": "#000000", "strokeWidth": 1.4}}
   ]
  }
 ],
 "resolve": {"scale": {"y": "independent"}}
}
